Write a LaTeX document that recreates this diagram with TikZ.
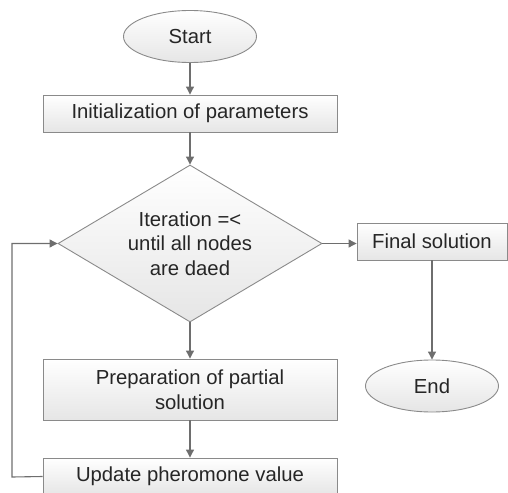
\documentclass[tikz,border=0pt]{standalone}
\usepackage{fontspec}
\setmainfont{Liberation Sans}
\usepackage{tikz}
\usetikzlibrary{arrows.meta,shapes.geometric}

\definecolor{edgegray}{HTML}{8A8A8A}
\definecolor{flowgray}{HTML}{6E6E6E}
\definecolor{inkgray}{HTML}{262626}

\tikzset{
  shapebox/.style={draw=edgegray, line width=0.9pt, top color=white, bottom color=black!10,
    text=inkgray, inner sep=0pt, align=center},
  procbox/.style={shapebox, rectangle, minimum width=294pt},
  termbox/.style={shapebox, ellipse, minimum width=133pt, minimum height=52pt},
  flow/.style={draw=flowgray, line width=1.1pt, -{Triangle[length=8pt,width=8pt]}},
}

\begin{document}
\begin{tikzpicture}[x=1pt, y=-1pt, font=\fontsize{20.3}{24.5}\selectfont]
      % scale: 1 pt = 1 px of the reference
      \useasboundingbox (0,0) rectangle (508,492);
      \clip (0,0) rectangle (508,492);
      \node[termbox] (start) at (190,36.5) {Start};
      \node[procbox, minimum height=37pt] (init) at (190,113.5) {Initialization of parameters};
      \node[shapebox, diamond, aspect=1.68, minimum width=264pt, minimum height=157pt, inner sep=-3pt] (iter) at (190,243.5)
        {Iteration =<\\until all nodes\\are daed};
      \node[shapebox, rectangle, minimum width=150pt, minimum height=37pt] (final) at (432,241.5) {Final solution};
      \node[termbox] (finish) at (432,386) {End};
      \node[procbox, minimum height=61pt] (prep) at (190,389.5) {Preparation of partial\\solution};
      \node[procbox, minimum height=37pt] (update) at (190,476.5) {Update pheromone value};
      \coordinate (back) at (12,477);
      \draw[flow] (start) -- (init);
      \draw[flow] (init) -- (iter);
      \draw[flow] (iter.east) -- (iter.east -| final.west);
      \draw[flow] (final) -- (finish);
      \draw[flow] (iter) -- (prep);
      \draw[flow] (prep) -- (update);
      \draw[flow] (update.west) -- (back) |- (iter.west);
    \end{tikzpicture}
\end{document}
